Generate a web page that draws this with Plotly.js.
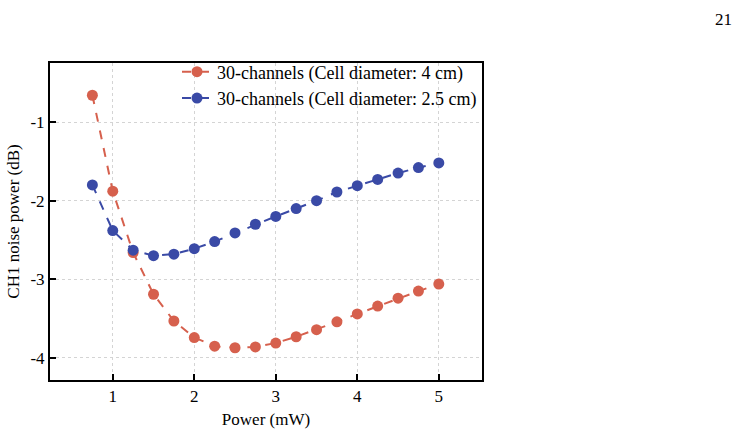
<!DOCTYPE html>
<html>
<head>
<meta charset="utf-8">
<script src="https://cdn.plot.ly/plotly-3.0.1.min.js"></script>
<style>html,body{margin:0;padding:0;background:#fff;}#chart{width:751px;height:432px;}
#chart svg text{font-family:"Liberation Serif",serif !important;}
#fontwarm{position:absolute;left:0;top:0;font-family:"Liberation Serif";font-size:17px;color:#fff;opacity:0.01;pointer-events:none;}</style>
</head>
<body>
<div id="fontwarm">30-channels (Cell diameter) Power CH1 -1234567890</div>
<div id="chart"></div>
<script>
const power = [0.75, 1, 1.25, 1.5, 1.75, 2, 2.25, 2.5, 2.75, 3, 3.25, 3.5, 3.75, 4, 4.25, 4.5, 4.75, 5];
const noise4cm = [-0.66, -1.88, -2.66, -3.19, -3.53, -3.74, -3.85, -3.87, -3.86, -3.81, -3.73, -3.64, -3.54, -3.44, -3.34, -3.24, -3.15, -3.06];
const noise25cm = [-1.80, -2.38, -2.63, -2.70, -2.68, -2.61, -2.52, -2.41, -2.30, -2.20, -2.10, -2.00, -1.89, -1.81, -1.73, -1.65, -1.58, -1.52];
const seriesNames = ["30-channels (Cell diameter: 4 cm)", "30-channels (Cell diameter: 2.5 cm)"];
const xTicks = [1, 2, 3, 4, 5];
const yTicks = [-1, -2, -3, -4];
const pageNumber = "21";

(function () {
  const red = "#d6604d", blue = "#3a4aa6";
  const FAM = "Liberation Serif";
  function sf(s) { return {family: FAM, size: s, color: "#000"}; }
  const traces = [
    {x: power, y: noise4cm, name: seriesNames[0], mode: "lines+markers",
     line: {color: red, width: 2, dash: "dash"}, marker: {color: red, size: 11}},
    {x: power, y: noise25cm, name: seriesNames[1], mode: "lines+markers",
     line: {color: blue, width: 2, dash: "dash"}, marker: {color: blue, size: 11}}
  ];
  const axisCommon = {
    ticks: "inside", ticklen: 6, tickwidth: 1.5, tickcolor: "#000",
    showline: true, linecolor: "#000", linewidth: 2, mirror: true,
    showgrid: true, gridcolor: "#d4d4d4", griddash: "dot", gridwidth: 1,
    zeroline: false, tickfont: sf(17)
  };
  const layout = {
    width: 751, height: 432,
    margin: {l: 50, r: 269, t: 63, b: 52},
    paper_bgcolor: "#fff", plot_bgcolor: "#fff",
    font: sf(17),
    showlegend: true,
    legend: {x: 1, y: 1.03, xanchor: "right", yanchor: "top", bgcolor: "rgba(0,0,0,0)",
             font: sf(18), tracegroupgap: 0},
    xaxis: Object.assign({range: [0.23, 5.53], tickvals: xTicks, ticktext: xTicks.map(String),
            title: {text: "Power (mW)", font: sf(17), standoff: 8}}, axisCommon),
    yaxis: Object.assign({range: [-4.28, -0.25], tickvals: yTicks, ticktext: yTicks.map(String),
            title: {text: "CH1 noise power (dB)", font: sf(17), standoff: 6}}, axisCommon),
    annotations: [{text: pageNumber, xref: "paper", yref: "paper", x: 1.583, y: 1.136,
                   xanchor: "right", yanchor: "middle", showarrow: false, font: sf(17)}]
  };
  let drawn = false;
  function draw() {
    if (drawn) return;
    drawn = true;
    Plotly.newPlot("chart", traces, layout, {displayModeBar: false}).then(function () {
      // force a style recalculation so the serif face is applied to SVG text
      const t = document.querySelector("#chart .xtick text");
      if (t) getComputedStyle(t).fontFamily;
      document.body.offsetHeight;
    });
  }
  if (document.fonts && document.fonts.load) {
    document.fonts.load('17px "Liberation Serif"').then(draw, draw);
    setTimeout(draw, 400);
  } else {
    draw();
  }
})();
</script>
</body>
</html>
